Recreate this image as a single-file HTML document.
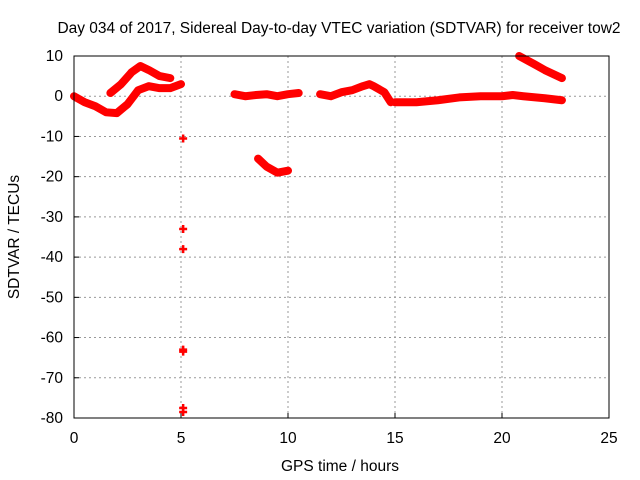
<!DOCTYPE html>
<html><head><meta charset="utf-8"><style>
body{margin:0;background:#fff}
svg{display:block;font-family:"Liberation Sans",sans-serif;font-size:15.5px}
</style></head><body>
<svg id="c" width="640" height="480">
<text x="339" y="33" text-anchor="middle">Day 034 of 2017, Sidereal Day-to-day VTEC variation (SDTVAR) for receiver tow2</text>
<text x="340" y="471" text-anchor="middle">GPS time / hours</text>
<text transform="translate(19,237) rotate(-90)" text-anchor="middle">SDTVAR / TECUs</text>
<g id="grid"></g><g id="marks"></g>
<rect x="74" y="56" width="535" height="362" fill="none" stroke="#000" stroke-width="1"/>
</svg>
<script>
const xTicks=[0,5,10,15,20,25];
const yTicks=[10,0,-10,-20,-30,-40,-50,-60,-70,-80];
const seriesA=[[0,0],[0.5,-1.5],[1,-2.5],[1.5,-4],[2,-4.2],[2.5,-2],[3,1.5],[3.5,2.5],[4,2],[4.5,2],[5,3]];
const seriesB=[[1.7,0.8],[2.2,3],[2.7,6],[3.1,7.5],[3.5,6.5],[4,5],[4.5,4.5]];
const seriesC=[[7.5,0.5],[8,0],[8.5,0.3],[9,0.5],[9.5,0],[10,0.5],[10.5,0.8]];
const seriesD=[[11.5,0.5],[12,0],[12.5,1],[13,1.5],[13.5,2.5],[13.8,3],[14,2.5],[14.5,1],[14.8,-1.5]];
const seriesE=[[15,-1.5],[16,-1.5],[17,-1],[18,-0.3],[19,0],[20,0],[20.5,0.3],[21,0],[22,-0.5],[22.8,-1]];
const seriesF=[[20.8,10],[21.5,8],[22,6.5],[22.8,4.5]];
const seriesG=[[8.6,-15.5],[9,-17.5],[9.5,-19],[10,-18.5]];
const outliers=[[5.1,-10.5],[5.1,-33],[5.1,-38],[5.1,-63],[5.1,-63.5],[5.1,-77.5],[5.1,-78.5]];
const X=v=>74+v*535/25, Y=v=>56+(10-v)*362/90;
const NS="http://www.w3.org/2000/svg";
const svg=document.getElementById('c'),grid=document.getElementById('grid'),marks=document.getElementById('marks');
function mk(t,a,p){const e=document.createElementNS(NS,t);for(const k in a)e.setAttribute(k,a[k]);p.appendChild(e);return e;}
xTicks.forEach(t=>{
 if(t>0&&t<25){const l=mk('line',{x1:X(t),x2:X(t),y1:56,y2:418,stroke:'#999','stroke-dasharray':'2,3'},grid);
 
 }
 const tk=mk('line',{x1:X(t),x2:X(t),y1:418,y2:413,stroke:'#000'},grid);
 
 
 const tx=mk('text',{x:X(t),y:443,'text-anchor':'middle'},svg);tx.textContent=t;
 
 
});
yTicks.forEach(t=>{
 if(t<10&&t>-80){const l=mk('line',{x1:74,x2:609,y1:Y(t),y2:Y(t),stroke:'#999','stroke-dasharray':'2,3'},grid);
 
 }
 const tk=mk('line',{x1:74,x2:79,y1:Y(t),y2:Y(t),stroke:'#000'},grid);
 
 
 const tx=mk('text',{x:63,y:Y(t)+5,'text-anchor':'end'},svg);tx.textContent=t;
 
 
});
[seriesA,seriesB,seriesC,seriesD,seriesE,seriesF,seriesG].forEach(s=>{
 const p=mk('polyline',{points:s.map(d=>X(d[0])+','+Y(d[1])).join(' '),fill:'none',stroke:'#f00','stroke-width':8,'stroke-linejoin':'round','stroke-linecap':'round'},marks);
 
 
});
outliers.forEach(d=>{
 const p=mk('path',{d:`M${X(d[0])-4},${Y(d[1])}h8M${X(d[0])},${Y(d[1])-4}v8`,stroke:'#f00','stroke-width':2.5},marks);
 
 
});
</script>
</body></html>
